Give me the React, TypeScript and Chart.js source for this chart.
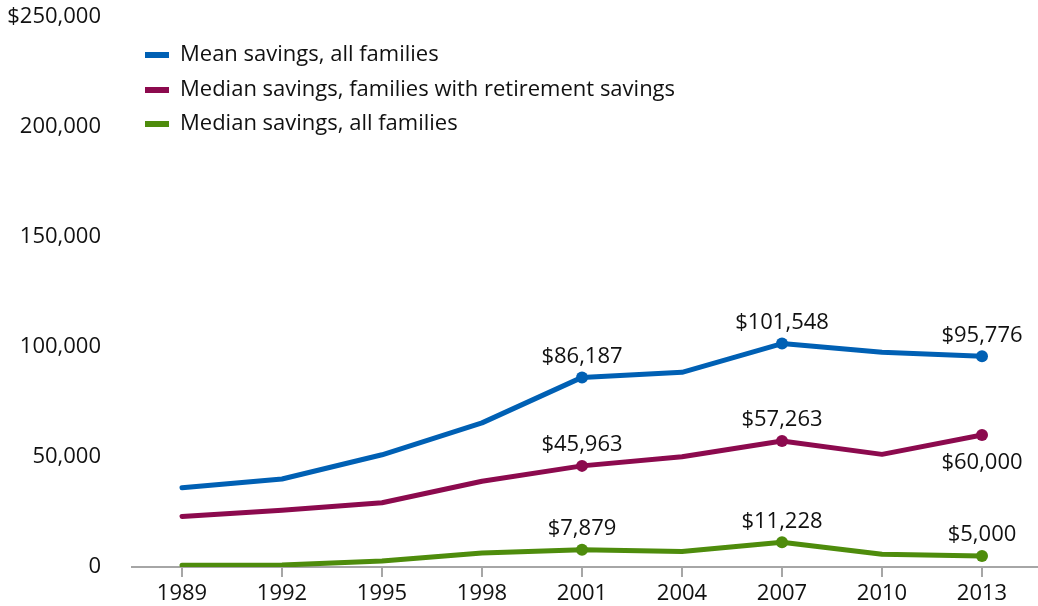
import React, { useEffect, useRef } from "react";
import { Chart, registerables } from "chart.js";

Chart.register(...registerables);

const years = ["1989", "1992", "1995", "1998", "2001", "2004", "2007", "2010", "2013"];
const meanAll = [36000, 40000, 51000, 65500, 86187, 88500, 101548, 97600, 95776];
const medianRetirement = [23000, 25800, 29200, 39000, 45963, 50100, 57263, 51200, 60000];
const medianAll = [800, 900, 2700, 6400, 7879, 7000, 11228, 5800, 5000];
const seriesNames = [
  "Mean savings, all families",
  "Median savings, families with retirement savings",
  "Median savings, all families",
];
const colors = ["#0060b4", "#8c0a4e", "#4e8c0c"];
const markedIndexes = [4, 6, 8];
// label placement: above (-1) or below (+1)
const labelSide = [
  [-1, -1, -1],
  [-1, -1, 1],
  [-1, -1, -1],
];
const yMax = 250000;
const yStep = 50000;

const FONT = "'Open Sans', sans-serif";

const fmt = (v: number) => v.toLocaleString("en-US");

export default function App() {
  const ref = useRef<HTMLCanvasElement | null>(null);
  useEffect(() => {
    document.body.style.margin = "0";
    const canvas = ref.current!;
    const allSeries = [meanAll, medianRetirement, medianAll];

    const overlay = {
      id: "overlay",
      beforeDatasetsDraw(chart: any) {
        const ctx = chart.ctx;
        const a = chart.chartArea;
        ctx.save();
        ctx.strokeStyle = "#a6a6a6";
        ctx.lineWidth = 2;
        ctx.beginPath();
        ctx.moveTo(a.left, a.bottom);
        ctx.lineTo(1038, a.bottom);
        ctx.stroke();
        ctx.restore();
      },
      afterDatasetsDraw(chart: any) {
        const ctx = chart.ctx;
        ctx.save();
        ctx.font = `22px ${FONT}`;
        ctx.fillStyle = "#111";
        ctx.textAlign = "center";
        ctx.textBaseline = "middle";
        allSeries.forEach((_, si) => {
          const meta = chart.getDatasetMeta(si);
          markedIndexes.forEach((idx, k) => {
            const pt = meta.data[idx];
            const side = labelSide[si][k];
            const dy = side < 0 ? -21 : 28;
            ctx.fillText("$" + fmt(allSeries[si][idx]), pt.x, pt.y + dy);
          });
        });
        const lx = 145;
        const ly = [55, 90, 124];
        ctx.textAlign = "left";
        seriesNames.forEach((name, i) => {
          ctx.fillStyle = colors[i];
          ctx.fillRect(lx, ly[i] - 3, 24, 6);
          ctx.fillStyle = "#111";
          ctx.fillText(name, lx + 35, ly[i]);
        });
        ctx.restore();
      },
    };

    const chart = new Chart(canvas, {
      type: "line",
      data: {
        labels: years,
        datasets: allSeries.map((d, i) => ({
          label: seriesNames[i],
          data: d,
          borderColor: colors[i],
          backgroundColor: colors[i],
          borderWidth: 5,
          tension: 0,
          pointRadius: years.map((_, j) => (markedIndexes.includes(j) ? 6 : 0)),
          pointBorderWidth: 0,
          pointHoverRadius: 0,
          borderCapStyle: "round",
          borderJoinStyle: "round",
        })),
      },
      options: {
        animation: false,
        responsive: false,
        maintainAspectRatio: false,
        layout: { autoPadding: false, padding: { top: 17, right: 6, left: 0, bottom: 0 } },
        plugins: { legend: { display: false }, tooltip: { enabled: false } },
        scales: {
          x: {
            type: "category",
            offset: true,
            afterFit(axis: any) {
              axis.height = 39;
            },
            grid: {
              drawOnChartArea: false,
              tickLength: 10,
              color: "#a6a6a6",
              lineWidth: 2,
            },
            border: { color: "#a6a6a6", width: 2 },
            ticks: {
              color: "#111",
              font: { family: FONT, size: 22 },
              padding: 4,
              maxRotation: 0,
            },
          },
          y: {
            min: 0,
            max: yMax,
            afterFit(axis: any) {
              axis.width = 132;
            },
            grid: {
              display: true,
              drawOnChartArea: false,
              drawTicks: true,
              tickLength: 31,
              color: "rgba(0,0,0,0)",
            },
            border: { display: false },
            ticks: {
              stepSize: yStep,
              color: "#111",
              font: { family: FONT, size: 22 },
              padding: 0,
              callback: (v: any) => (Number(v) === yMax ? "$" : "") + fmt(Number(v)),
            },
          },
        },
      },
      plugins: [overlay],
    });
    return () => chart.destroy();
  }, []);
  return (
    <div style={{ width: 1038, height: 606 }}>
      <canvas ref={ref} width={1038} height={606} style={{ display: "block" }} />
    </div>
  );
}
